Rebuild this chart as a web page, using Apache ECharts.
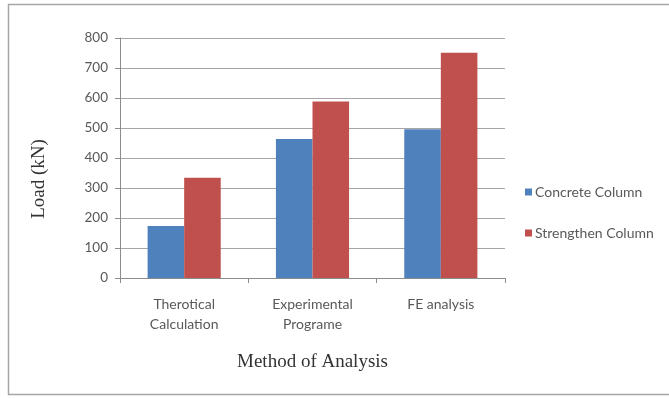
<!DOCTYPE html>
<html>
<head>
<meta charset="utf-8">
<script src="https://cdn.jsdelivr.net/npm/echarts@6/dist/echarts.min.js"></script>
<style>
  html, body { margin: 0; padding: 0; background: #fff; }
  #chart { width: 669px; height: 398px; }
</style>
</head>
<body>
<div id="chart"></div>
<script>
// Failure load by method of analysis
const categories = ['Therotical\nCalculation', 'Experimental\nPrograme', 'FE analysis'];
const concreteColumn = [173, 463, 496];
const strengthenColumn = [334, 588, 751];
const seriesNames = ['Concrete Column', 'Strengthen Column'];

const labelFont = 'Lato, "Open Sans", sans-serif';
const titleFont = '"Liberation Serif", "DejaVu Serif", serif';

const chart = echarts.init(document.getElementById('chart'));
chart.setOption({
  animation: false,
  backgroundColor: '#fff',
  graphic: [{
    type: 'rect',
    shape: { x: 8.5, y: 4.5, width: 668, height: 390 },
    style: { fill: 'none', stroke: '#a6a6a6', lineWidth: 1.5 },
    silent: true
  }],
  grid: { left: 120, right: 164, top: 38, bottom: 120 },
  legend: {
    orient: 'vertical',
    left: 520,
    top: 180,
    itemWidth: 7,
    itemHeight: 7,
    itemGap: 27,
    icon: 'rect',
    textStyle: { fontFamily: labelFont, fontSize: 14, color: '#595959', padding: [0, 0, 0, -2] },
    data: seriesNames
  },
  xAxis: {
    type: 'category',
    data: categories,
    name: 'Method of Analysis',
    nameLocation: 'middle',
    nameGap: 75,
    nameTextStyle: { fontFamily: titleFont, fontSize: 19, color: '#333' },
    axisLine: { lineStyle: { color: '#8c8c8c' } },
    axisTick: { show: true, length: 5, lineStyle: { color: '#8c8c8c' } },
    axisLabel: { fontFamily: labelFont, fontSize: 14, color: '#595959', margin: 16, lineHeight: 20 }
  },
  yAxis: {
    type: 'value',
    min: 0,
    max: 800,
    interval: 100,
    name: 'Load (kN)',
    nameLocation: 'middle',
    nameGap: 71,
    nameRotate: 90,
    nameTextStyle: { fontFamily: titleFont, fontSize: 19, color: '#333', padding: [0, 42, 0, 0] },
    axisLine: { show: true, lineStyle: { color: '#8c8c8c' } },
    axisTick: { show: true, length: 5, lineStyle: { color: '#8c8c8c' } },
    axisLabel: { fontFamily: labelFont, fontSize: 13.5, color: '#595959', margin: 12 },
    splitLine: { lineStyle: { color: '#a6a6a6' } }
  },
  series: [
    {
      name: seriesNames[0],
      type: 'bar',
      data: concreteColumn,
      itemStyle: { color: '#4F81BD' },
      barGap: '0%',
      barCategoryGap: '43%'
    },
    {
      name: seriesNames[1],
      type: 'bar',
      data: strengthenColumn,
      itemStyle: { color: '#C0504D' }
    }
  ]
});
</script>
</body>
</html>
